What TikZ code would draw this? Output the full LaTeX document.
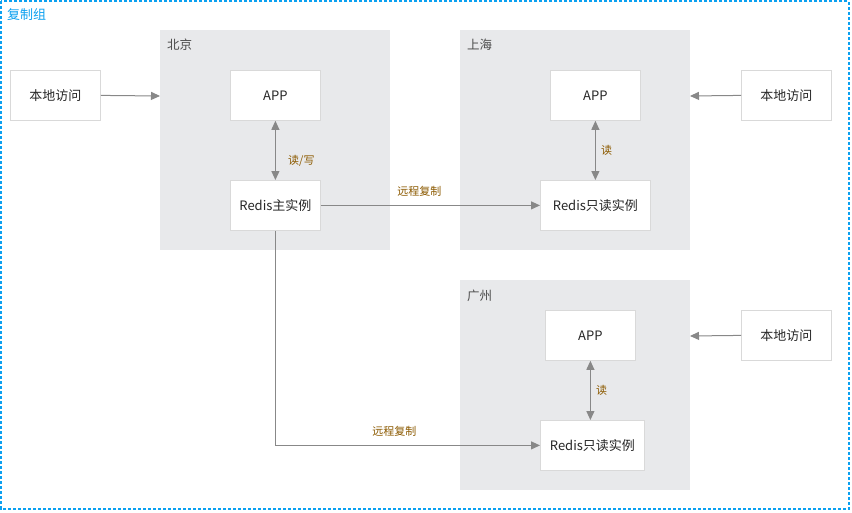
\documentclass[tikz,border=0pt]{standalone}
\usepackage{fontspec}
\setmainfont{Liberation Sans}
\newfontfamily\cjk{Noto Sans CJK SC}
\usetikzlibrary{arrows.meta}
\definecolor{grpfill}{HTML}{E8E9EB}
\definecolor{boxline}{HTML}{D9D9D9}
\definecolor{arr}{HTML}{888888}
\definecolor{lbl}{HTML}{8C5A00}
\definecolor{blueline}{HTML}{0AA0F0}
\begin{document}
\begin{tikzpicture}[x=1pt,y=-1pt,
  grp/.style={fill=grpfill, draw=none},
  wbox/.style={draw=boxline, fill=white, line width=0.8pt, inner sep=0pt, anchor=north west, font=\cjk\fontsize{13}{15}\selectfont, text=black!85},
  glabel/.style={anchor=west, font=\cjk\fontsize{12.5}{14}\selectfont, text=black!70},
  elabel/.style={font=\cjk\fontsize{11}{13}\selectfont, text=lbl},
  conn/.style={draw=arr, line width=1pt, -{Triangle[length=9pt,width=8pt]}},
  bconn/.style={draw=arr, line width=1pt, {Triangle[length=9pt,width=8pt]}-{Triangle[length=9pt,width=8pt]}}
]
\useasboundingbox (0,0) rectangle (852,512);
\fill[white] (0,0) rectangle (852,512);
% outer group
\draw[draw=blueline, dash pattern=on 3pt off 2pt, line width=1.5pt] (1.2,1.2) rectangle (849,509);
\node[anchor=west, font=\cjk\fontsize{13}{15}\selectfont, text=blueline, inner sep=0pt] (title) at (7,15) {复制组};
% groups
\fill[grp] (160,30) rectangle (390,250);
\fill[grp] (460,30) rectangle (690,250);
\fill[grp] (460,280) rectangle (690,490);
\node[glabel, inner sep=0pt] (bj) at (167,45) {北京};
\node[glabel, inner sep=0pt] (sh) at (467,45) {上海};
\node[glabel, inner sep=0pt] (gz) at (467,296) {广州};
\coordinate (bjin) at (160,96);
\coordinate (shin) at (690,96);
\coordinate (gzin) at (690,336);
% boxes
\node[wbox, minimum width=90pt, minimum height=50pt] (loc1) at (10,70) {本地访问};
\node[wbox, minimum width=90pt, minimum height=50pt] (app1) at (230,70) {APP};
\node[wbox, minimum width=90pt, minimum height=50pt] (red1) at (230,180) {Redis主实例};
\node[wbox, minimum width=90pt, minimum height=50pt] (app2) at (550,70) {APP};
\node[wbox, minimum width=110pt, minimum height=50pt] (red2) at (540,180) {Redis只读实例};
\node[wbox, minimum width=90pt, minimum height=50pt] (loc2) at (741,70) {本地访问};
\node[wbox, minimum width=90pt, minimum height=50pt] (app3) at (545,310) {APP};
\node[wbox, minimum width=104pt, minimum height=50pt] (red3) at (540,420) {Redis只读实例};
\node[wbox, minimum width=90pt, minimum height=50pt] (loc3) at (741,310) {本地访问};
% connectors
\draw[conn] (loc1.east) -- (bjin);
\draw[conn] (loc2.west) -- (shin);
\draw[conn] (loc3.west) -- (gzin);
\draw[bconn] (app1.south) -- (red1.north) node[pos=0.67, right=9pt, elabel] {读/写};
\draw[bconn] (app2.south) -- (app2.south |- red2.north) node[midway, right=2pt, elabel] {读};
\draw[bconn] (app3.south) -- (app3.south |- red3.north) node[midway, right=2pt, elabel] {读};
\draw[conn] (red1.east |- red2.west) -- (red2.west) node[pos=0.45, above=5pt, elabel] {远程复制};
\draw[conn] (red1.south) |- (red3.west) node[pos=0.725, above=5pt, elabel] {远程复制};
\end{tikzpicture}
\end{document}
